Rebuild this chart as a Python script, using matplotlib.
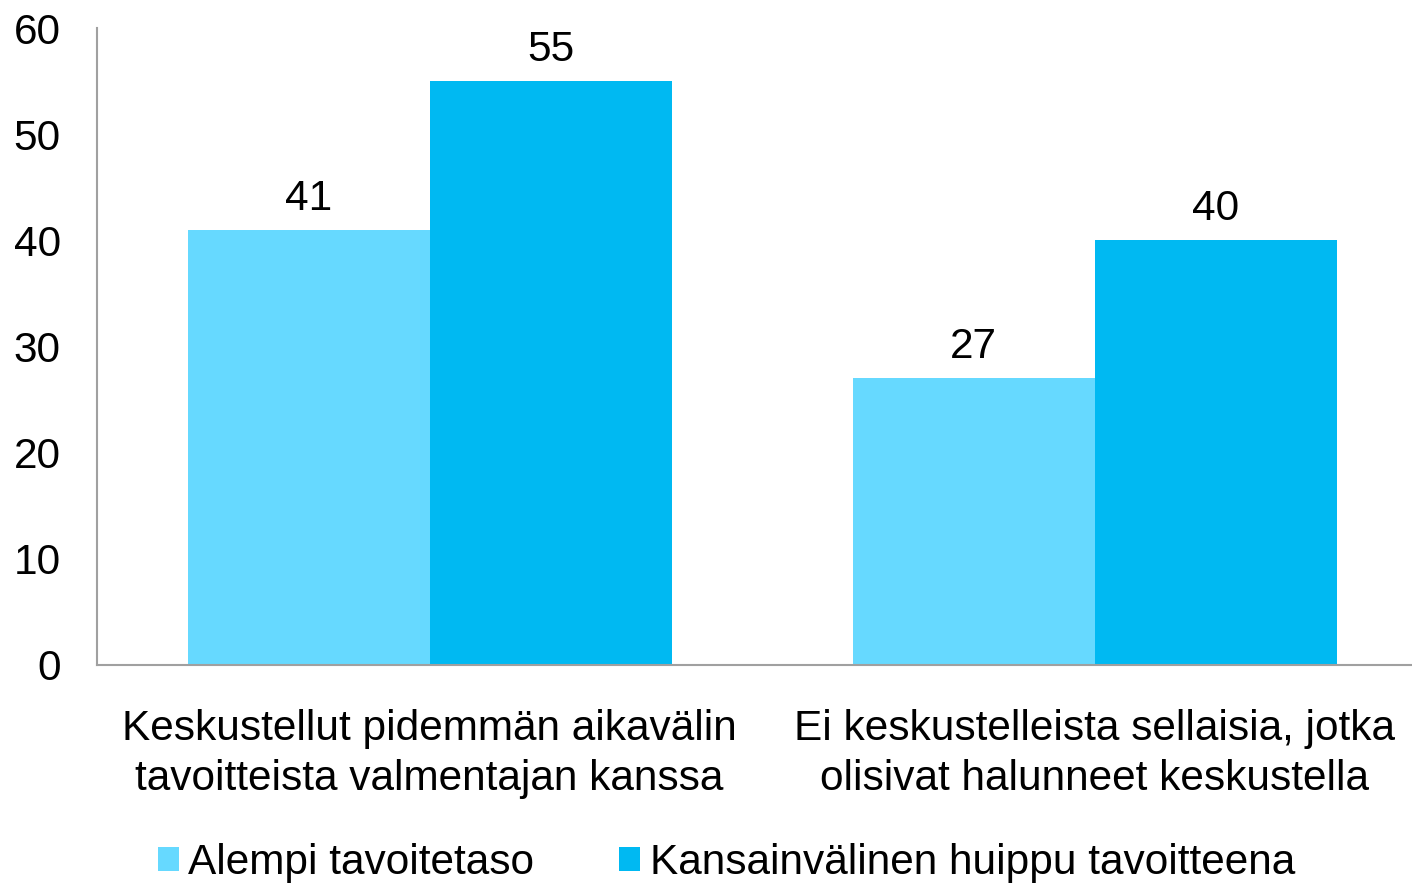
import numpy as np
import matplotlib.pyplot as plt

plt.rcParams['font.family'] = ['Liberation Sans', 'DejaVu Sans']

# data
categories = ['Keskustellut pidemmän aikavälin\ntavoitteista valmentajan kanssa',
              'Ei keskustelleista sellaisia, jotka\nolisivat halunneet keskustella']
series_names = ['Alempi tavoitetaso', 'Kansainvälinen huippu tavoitteena']
alempi = [41, 27]
huippu = [55, 40]
colors = ['#66D9FF', '#00B9F2']

fig = plt.figure(figsize=(14.12, 8.83), dpi=100)
ax = fig.add_axes([97/1412, 1-665/883, 1330/1412, (665-28)/883])

x = np.arange(len(categories))
w = 242/665
b1 = ax.bar(x - w/2, alempi, w, color=colors[0], label=series_names[0])
b2 = ax.bar(x + w/2, huippu, w, color=colors[1], label=series_names[1])

for bars in (b1, b2):
	for r in bars:
		ax.annotate(str(int(r.get_height())), (r.get_x() + r.get_width()/2, r.get_height()),
			xytext=(0, 8), textcoords='offset points', ha='center', va='bottom', fontsize=30.5)

ax.set_xlim(-0.5, 1.5)
ax.set_ylim(0, 60)
ax.set_yticks(range(0, 61, 10))
ax.set_xticks(x)
ax.set_xticklabels(categories, fontsize=30.5, linespacing=1.32)
ax.tick_params(axis='y', length=0, pad=26, labelsize=30.5)
ax.tick_params(axis='x', length=0, pad=32)
for s in ['top', 'right']:
	ax.spines[s].set_visible(False)
for s in ['left', 'bottom']:
	ax.spines[s].set_color('#A0A0A0')
	ax.spines[s].set_linewidth(1.5)

fig.legend(loc='center', bbox_to_anchor=(0.5145, 0.023), ncol=2, frameon=False,
	fontsize=30.5, handlelength=0.5, handleheight=0.5, handletextpad=0.23, columnspacing=2.0)

fig.savefig('out.png', dpi=100)
